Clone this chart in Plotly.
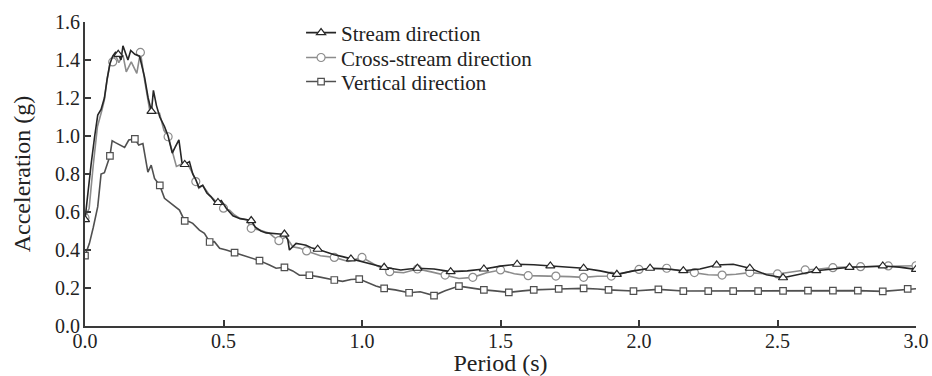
import plotly.graph_objects as go

# Response spectra: period (s) vs. spectral acceleration (g)
stream_period = [0.00, 0.01, 0.022, 0.035, 0.046, 0.058, 0.07, 0.08, 0.09, 0.10, 0.11, 0.12,
                 0.13, 0.137, 0.145, 0.155, 0.165, 0.18, 0.197, 0.215, 0.228, 0.24, 0.247,
                 0.258, 0.27, 0.287, 0.30, 0.315, 0.325, 0.339, 0.35, 0.36, 0.377, 0.389,
                 0.40, 0.411, 0.425, 0.44, 0.455, 0.468, 0.48, 0.492, 0.51, 0.534, 0.56,
                 0.588, 0.60, 0.615, 0.635, 0.654, 0.68, 0.702, 0.72, 0.732, 0.738, 0.762,
                 0.78, 0.798, 0.82, 0.84, 0.87, 0.90, 0.93, 0.96, 0.99, 1.02, 1.05, 1.08,
                 1.11, 1.14, 1.17, 1.20, 1.26, 1.32, 1.38, 1.44, 1.50, 1.56, 1.62, 1.68,
                 1.74, 1.80, 1.86, 1.92, 1.98, 2.04, 2.10, 2.16, 2.22, 2.28, 2.34, 2.40,
                 2.46, 2.52, 2.58, 2.64, 2.70, 2.76, 2.82, 2.88, 2.94, 3.00]
stream_accel = [0.56, 0.70, 0.85, 1.00, 1.11, 1.14, 1.20, 1.30, 1.38, 1.42, 1.44, 1.43,
                1.40, 1.475, 1.44, 1.40, 1.45, 1.43, 1.42, 1.31, 1.20, 1.13, 1.24,
                1.16, 1.10, 1.05, 1.00, 0.91, 0.94, 0.98, 0.86, 0.85, 0.865, 0.80,
                0.77, 0.73, 0.74, 0.70, 0.68, 0.655, 0.65, 0.66, 0.62, 0.58, 0.565,
                0.56, 0.555, 0.52, 0.50, 0.49, 0.485, 0.484, 0.484, 0.455, 0.40, 0.435,
                0.43, 0.425, 0.41, 0.404, 0.39, 0.375, 0.365, 0.353, 0.34, 0.33, 0.32, 0.309,
                0.30, 0.295, 0.30, 0.304, 0.30, 0.286, 0.29, 0.30, 0.315, 0.325, 0.322, 0.316,
                0.312, 0.304, 0.29, 0.272, 0.29, 0.304, 0.30, 0.291, 0.30, 0.321, 0.325, 0.304,
                0.27, 0.254, 0.272, 0.291, 0.30, 0.309, 0.312, 0.316, 0.31, 0.298]

cross_period = [0.00, 0.015, 0.03, 0.045, 0.06, 0.07, 0.08, 0.09, 0.10, 0.11, 0.122, 0.137,
                0.149, 0.167, 0.187, 0.20, 0.215, 0.233, 0.25, 0.269, 0.285, 0.30, 0.315,
                0.33, 0.345, 0.36, 0.375, 0.39, 0.40, 0.411, 0.425, 0.449, 0.474, 0.49,
                0.50, 0.522, 0.54, 0.558, 0.584, 0.60, 0.63, 0.666, 0.68, 0.70, 0.726,
                0.75, 0.775, 0.80, 0.85, 0.90, 0.95, 1.00, 1.05, 1.10, 1.15, 1.20, 1.25,
                1.30, 1.35, 1.40, 1.45, 1.50, 1.55, 1.60, 1.65, 1.70, 1.75, 1.80, 1.85,
                1.90, 1.95, 2.00, 2.05, 2.10, 2.15, 2.20, 2.25, 2.30, 2.35, 2.40, 2.45,
                2.50, 2.55, 2.60, 2.65, 2.70, 2.75, 2.80, 2.85, 2.90, 2.95, 3.00]
cross_accel = [0.57, 0.62, 0.85, 1.05, 1.13, 1.19, 1.30, 1.38, 1.39, 1.426, 1.386, 1.426,
               1.338, 1.39, 1.33, 1.44, 1.295, 1.14, 1.12, 1.12, 1.03, 0.996, 0.92,
               0.84, 0.85, 0.86, 0.84, 0.80, 0.76, 0.725, 0.74, 0.69, 0.654, 0.64,
               0.62, 0.61, 0.584, 0.567, 0.56, 0.514, 0.505, 0.488, 0.47, 0.449, 0.47,
               0.417, 0.41, 0.395, 0.37, 0.361, 0.34, 0.361, 0.32, 0.286, 0.28, 0.30, 0.285,
               0.268, 0.25, 0.256, 0.28, 0.295, 0.275, 0.265, 0.264, 0.263, 0.26, 0.256, 0.262,
               0.263, 0.28, 0.298, 0.302, 0.304, 0.29, 0.281, 0.27, 0.268, 0.272, 0.281, 0.275,
               0.274, 0.285, 0.295, 0.30, 0.307, 0.31, 0.312, 0.314, 0.316, 0.316, 0.317]

vert_period = [0.00, 0.016, 0.03, 0.046, 0.058, 0.07, 0.09, 0.098, 0.11, 0.125, 0.143, 0.158,
               0.18, 0.194, 0.209, 0.227, 0.239, 0.251, 0.27, 0.287, 0.305, 0.323, 0.341,
               0.36, 0.375, 0.389, 0.413, 0.431, 0.45, 0.467, 0.486, 0.51, 0.54, 0.56,
               0.582, 0.60, 0.63, 0.666, 0.69, 0.72, 0.75, 0.774, 0.81, 0.84, 0.87, 0.90,
               0.93, 0.96, 0.99, 1.02, 1.05, 1.08, 1.12, 1.17, 1.21, 1.26, 1.30, 1.35,
               1.39, 1.44, 1.48, 1.53, 1.58, 1.62, 1.71, 1.80, 1.85, 1.89, 1.98, 2.07,
               2.16, 2.25, 2.34, 2.43, 2.52, 2.61, 2.70, 2.79, 2.88, 2.97, 3.00]
vert_accel = [0.37, 0.435, 0.52, 0.628, 0.80, 0.807, 0.895, 0.975, 0.965, 0.953, 0.94, 0.979,
              0.985, 0.953, 0.96, 0.81, 0.847, 0.777, 0.74, 0.672, 0.65, 0.632, 0.61,
              0.553, 0.55, 0.54, 0.505, 0.488, 0.442, 0.444, 0.409, 0.40, 0.386, 0.375,
              0.365, 0.355, 0.344, 0.321, 0.304, 0.309, 0.29, 0.268, 0.267, 0.26, 0.25, 0.242,
              0.235, 0.245, 0.247, 0.228, 0.21, 0.198, 0.19, 0.175, 0.18, 0.16, 0.185, 0.21,
              0.20, 0.19, 0.185, 0.177, 0.185, 0.19, 0.195, 0.198, 0.195, 0.19, 0.184, 0.193,
              0.184, 0.184, 0.184, 0.184, 0.185, 0.186, 0.186, 0.186, 0.182, 0.195, 0.196]

series_names = ["Stream direction", "Cross-stream direction", "Vertical direction"]
x_ticks = [0.0, 0.5, 1.0, 1.5, 2.0, 2.5, 3.0]
y_ticks = [0.0, 0.2, 0.4, 0.6, 0.8, 1.0, 1.2, 1.4, 1.6]

# Drawing style for each series: marker interval (s), symbol, colour, marker size
styles = {
    "Stream direction": dict(step=0.12, symbol="triangle-up", color="#262626", size=8),
    "Cross-stream direction": dict(step=0.10, symbol="circle", color="#8c8c8c", size=8),
    "Vertical direction": dict(step=0.09, symbol="square", color="#505050", size=6.5),
}
data = {
    "Stream direction": (stream_period, stream_accel),
    "Cross-stream direction": (cross_period, cross_accel),
    "Vertical direction": (vert_period, vert_accel),
}
legend_ids = {"Stream direction": "legend", "Cross-stream direction": "legend2",
              "Vertical direction": "legend3"}

fig = go.Figure()
for name in reversed(series_names):
    periods, accels = data[name]
    st = styles[name]
    # Only every marker-interval point gets a visible open marker
    shown = [abs(p / st["step"] - round(p / st["step"])) < 1e-6 for p in periods]
    fill = ["white" if s else "rgba(0,0,0,0)" for s in shown]
    edge = [st["color"] if s else "rgba(0,0,0,0)" for s in shown]
    fig.add_trace(go.Scatter(
        x=periods, y=accels, name=name, mode="lines+markers",
        legend=legend_ids[name], showlegend=True,
        line=dict(color=st["color"], width=1.6),
        marker=dict(symbol=st["symbol"], size=st["size"], color=fill,
                    line=dict(color=edge, width=1.2)),
    ))

axis_common = dict(
    showgrid=False, zeroline=False, showline=True, linecolor="#3a3a3a", linewidth=2,
    ticks="inside", ticklen=6, tickwidth=1.5, tickcolor="#3a3a3a", automargin=False,
    tickfont=dict(family="Liberation Serif", size=20, color="#222222"),
)

legend_font = dict(family="Liberation Serif", size=21, color="#222222")
legend_box = dict(x=0.26, xanchor="left", yanchor="middle", bgcolor="rgba(0,0,0,0)",
                  borderwidth=0, font=legend_font)

fig.update_layout(
    width=932, height=376,
    margin=dict(l=85, r=16, t=22, b=50),
    paper_bgcolor="white", plot_bgcolor="white",
    font=dict(family="Liberation Serif", size=20, color="#222222"),
    showlegend=True,
    legend=dict(y=0.964, **legend_box),
    legend2=dict(y=0.882, **legend_box),
    legend3=dict(y=0.803, **legend_box),
    xaxis=dict(range=[0, 3], tickvals=x_ticks, ticktext=[f"{v:.1f}" for v in x_ticks],
               title=dict(text="Period (s)", standoff=3), ticklabelstandoff=-4, **axis_common),
    yaxis=dict(range=[0, 1.6], tickvals=y_ticks, ticktext=[f"{v:.1f}" for v in y_ticks],
               title=dict(text="Acceleration (g)", standoff=18), ticklabelstandoff=-1,
               **axis_common),
)

fig.write_html("out.html")
